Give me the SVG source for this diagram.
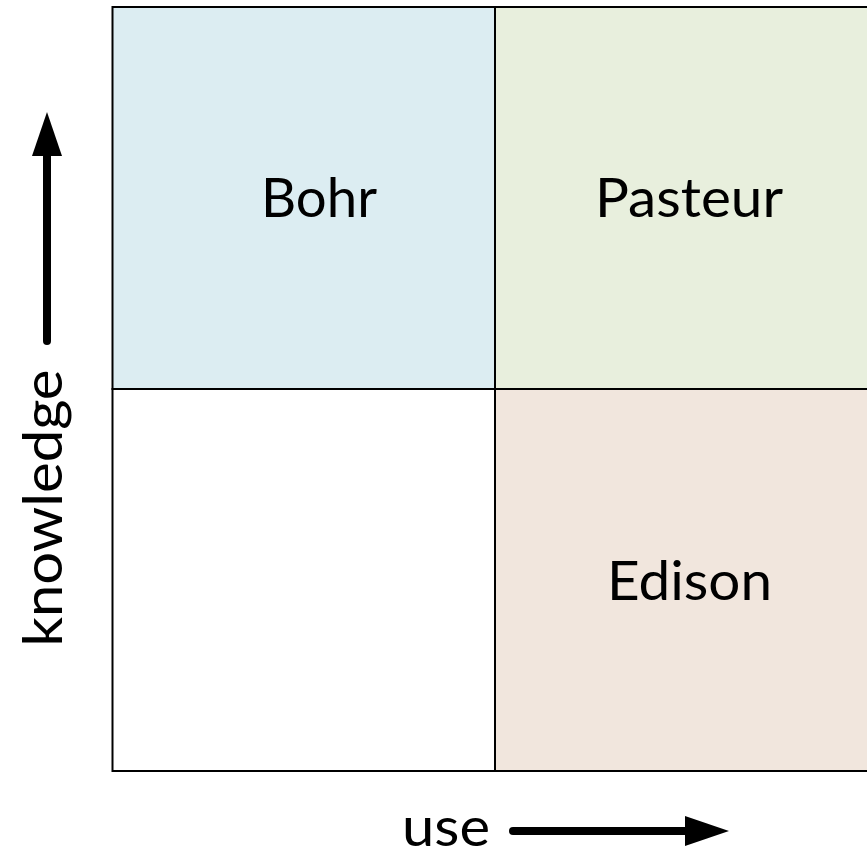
<svg xmlns="http://www.w3.org/2000/svg" width="867" height="851" viewBox="0 0 867 851">
<style>
.cell{stroke:#000;stroke-width:2}
.lbl{font-family:Lato,"Open Sans","Liberation Sans",sans-serif;font-size:54px;fill:#000}
.axis{stroke:#000;stroke-width:8;stroke-linecap:round;fill:none}
</style>
<defs>
<marker id="ah" markerUnits="userSpaceOnUse" markerWidth="44" markerHeight="30" refX="0" refY="15" orient="auto" viewBox="0 0 44 30">
<path d="M0,0 L44,15 L0,30 Z" fill="#000"/>
</marker>
</defs>
<rect width="867" height="851" fill="#fff"/>
<g id="bohr">
<rect class="cell" x="112.5" y="7" width="382.5" height="382" fill="#DCEDF2"/>
<text class="lbl" x="319" y="217" text-anchor="middle" textLength="116" lengthAdjust="spacingAndGlyphs">Bohr</text>
</g>
<g id="pasteur">
<rect class="cell" x="495" y="7" width="384" height="382" fill="#E8EFDD"/>
<text class="lbl" x="689" y="217" text-anchor="middle" textLength="188" lengthAdjust="spacingAndGlyphs">Pasteur</text>
</g>
<g id="empty">
<rect class="cell" x="112.5" y="389" width="382.5" height="382" fill="#FFFFFF"/>
</g>
<g id="edison">
<rect class="cell" x="495" y="389" width="384" height="382" fill="#F1E6DD"/>
<text class="lbl" x="689.5" y="600" text-anchor="middle" textLength="165" lengthAdjust="spacingAndGlyphs">Edison</text>
</g>
<g id="axes">
<line class="axis" x1="47" y1="341" x2="47" y2="156" marker-end="url(#ah)"/>
<line class="axis" x1="513" y1="831" x2="685" y2="831" marker-end="url(#ah)"/>
<text class="lbl" x="62" y="508" text-anchor="middle" transform="rotate(-90 62 508)" textLength="277" lengthAdjust="spacingAndGlyphs">knowledge</text>
<text class="lbl" x="446" y="846" text-anchor="middle" textLength="88" lengthAdjust="spacingAndGlyphs">use</text>
</g>
</svg>
